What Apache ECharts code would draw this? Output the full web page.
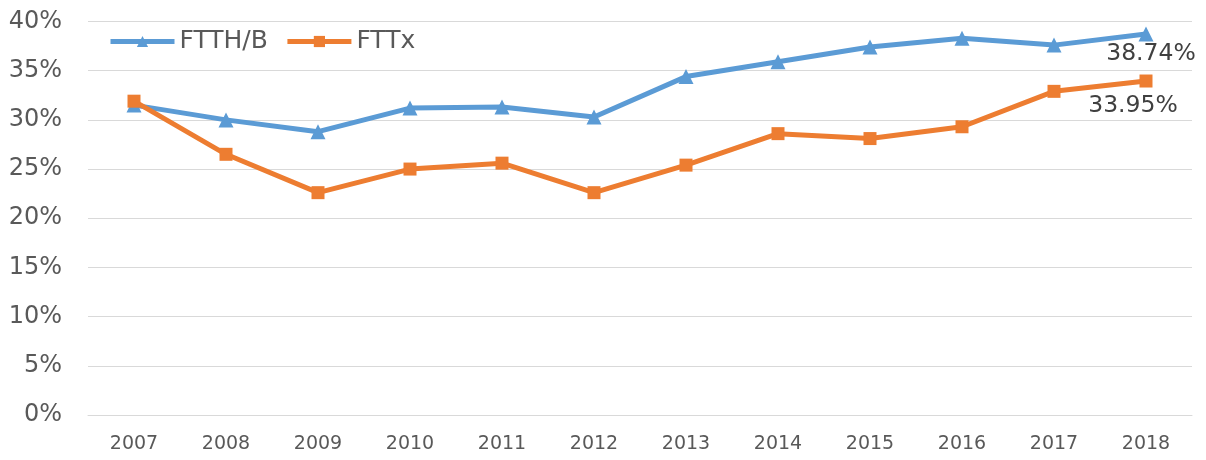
<!DOCTYPE html>
<html>
<head>
<meta charset="utf-8">
<script src="https://cdn.jsdelivr.net/npm/echarts@6/dist/echarts.min.js"></script>
<style>html,body{margin:0;padding:0;background:#fff}#c{width:1206px;height:460px}</style>
</head>
<body>
<div id="c"></div>
<script>
const years = ['2007','2008','2009','2010','2011','2012','2013','2014','2015','2016','2017','2018'];
const ftthB = [31.5, 30.0, 28.8, 31.2, 31.3, 30.3, 34.4, 35.9, 37.4, 38.3, 37.6, 38.74];
const fttx  = [31.9, 26.5, 22.6, 25.0, 25.6, 22.6, 25.4, 28.6, 28.1, 29.3, 32.9, 33.95];
const yTicks = [0, 5, 10, 15, 20, 25, 30, 35, 40];

const chart = echarts.init(document.getElementById('c'), null, {renderer: 'canvas'});
const fontFam = '"DejaVu Sans", sans-serif';
function lastLabel(arr, offset) {
  return arr.map((v, i) => i === arr.length - 1 ? {
    value: v,
    label: {show: true, position: 'bottom', offset: offset, formatter: v.toFixed(2) + '%',
            fontSize: 23.5, color: '#404040', fontFamily: fontFam}
  } : v);
}
chart.setOption({
  animation: false,
  grid: {left: 88, right: 14, top: 21.5, bottom: 45},
  legend: {
    left: 108, top: 29, padding: 0, itemWidth: 64, itemHeight: 14, itemGap: 17,
    lineStyle: {width: 5},
    textStyle: {fontSize: 25, color: '#595959', fontFamily: fontFam},
    data: ['FTTH/B', 'FTTx']
  },
  xAxis: {
    type: 'category', data: years, boundaryGap: true,
    axisLine: {show: true, lineStyle: {color: '#d9d9d9'}},
    axisTick: {show: false},
    axisLabel: {fontSize: 19, color: '#595959', margin: 20, fontFamily: fontFam}
  },
  yAxis: {
    type: 'value', min: yTicks[0], max: yTicks[yTicks.length - 1], interval: 5,
    axisLine: {show: false}, axisTick: {show: false},
    splitLine: {lineStyle: {color: '#d9d9d9', width: 1}},
    axisLabel: {fontSize: 24, color: '#595959', margin: 26, fontFamily: fontFam,
                formatter: v => v + '%'}
  },
  series: [
    {
      name: 'FTTH/B', type: 'line', data: lastLabel(ftthB, [5, -5]),
      symbol: 'triangle', symbolSize: 15, showAllSymbol: true,
      lineStyle: {color: '#5B9BD5', width: 5},
      itemStyle: {color: '#5B9BD5'}, z: 2
    },
    {
      name: 'FTTx', type: 'line', data: lastLabel(fttx, [-13, 1]),
      symbol: 'rect', symbolSize: 13, showAllSymbol: true,
      lineStyle: {color: '#ED7D31', width: 5},
      itemStyle: {color: '#ED7D31'}, z: 3
    }
  ]
});
</script>
</body>
</html>
